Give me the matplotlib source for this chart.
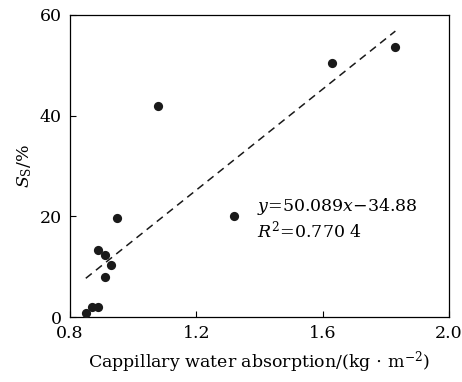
import numpy as np
import matplotlib.pyplot as plt

plt.rcParams['font.family'] = ['DejaVu Serif']
plt.rcParams['mathtext.fontset'] = 'custom'
plt.rcParams['mathtext.rm'] = 'DejaVu Serif'
plt.rcParams['mathtext.it'] = 'DejaVu Serif:italic'

# data
absorption = [0.851, 0.871, 0.890, 0.890, 0.911, 0.911, 0.930, 0.948, 1.080, 1.320, 1.630, 1.830]
ss = [0.8, 2.0, 2.0, 13.3, 12.3, 8.0, 10.3, 19.7, 42.0, 20.1, 50.5, 53.7]
slope = 50.089
intercept = -34.88
fit_range = [0.85, 1.83]
xticks = [0.8, 1.2, 1.6, 2.0]
yticks = [0, 20, 40, 60]

fig = plt.figure(figsize=(4.62, 3.82), dpi=100)
ax = fig.add_axes([0.1515, 0.170, 0.8205, 0.791])

ax.scatter(absorption, ss, s=44, color='#1a1a1a', zorder=3, linewidths=0)
xf = np.array(fit_range)
ax.plot(xf, slope * xf + intercept, linestyle=(0, (5, 3.5)), color='#1a1a1a', lw=1.1)

ax.set_xlim(0.8, 2.0)
ax.set_ylim(0, 60)
ax.set_xticks(xticks)
ax.set_yticks(yticks)
ax.set_xticklabels(['0.8', '1.2', '1.6', '2.0'])
ax.tick_params(direction='in', length=4, width=0.8, labelsize=12.5, pad=6)
for sp in ax.spines.values():
    sp.set_linewidth(0.9)

ax.set_xlabel('Cappillary water absorption/(kg$\\,\\cdot\\,$m$^{-2}$)', fontsize=12.5, labelpad=5)
ax.set_ylabel('$\\it{S}_{\\rm S}$/%', fontsize=12.5, labelpad=4)

ax.text(1.393, 21.1, '$\\it{y}$=50.089$\\it{x}$\u221234.88', fontsize=12.5, va='baseline')
ax.text(1.393, 15.9, '$\\it{R}^{2}$=0.770 4', fontsize=12.5, va='baseline')

fig.savefig('out.png', dpi=100)
